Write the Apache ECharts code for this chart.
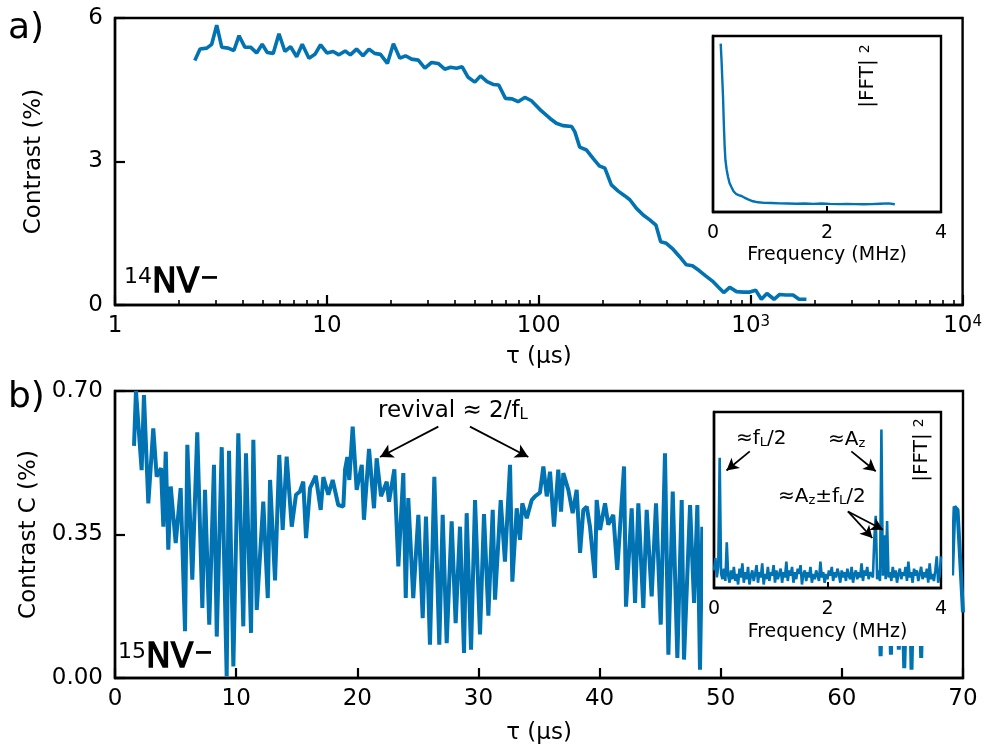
<!DOCTYPE html>
<html>
<head>
<meta charset="utf-8">
<script src="https://cdn.jsdelivr.net/npm/echarts@6/dist/echarts.min.js"></script>
<style>
  html, body { margin: 0; padding: 0; background: #fff; }
  #chart { width: 985px; height: 747px; }
</style>
</head>
<body>
<div id="chart"></div>
<script>
// ---- panel a) : 14NV- echo decay on a log time axis ----
const tauA = [2.38,2.52,2.71,2.86,3.02,3.19,3.42,3.64,3.85,4.10,
  4.36,4.66,4.95,5.23,5.58,5.94,6.34,6.74,7.20,7.65,
  8.23,8.78,9.34,10.0,10.7,11.4,12.2,12.9,13.8,14.8,
  15.8,16.8,17.9,19.3,20.6,22.1,23.5,25.1,27.0,29.0,
  31.2,33.5,36.0,38.3,40.9,43.5,46.4,49.9,53.1,57.0,
  60.9,64.7,69.6,74.8,79.8,85.9,92.3,101,113,121,
  130,143,148,156,168,180,193,205,220,237,
  255,269,289,311,334,357,376,400,427,462,
  497,531,571,613,660,701,746,796,857,921,
  990,1056,1123,1193,1289,1370,1463,1584,1691,1832];
const contrastA = [5.11,5.35,5.37,5.45,5.85,5.39,5.37,5.32,5.63,5.39,
  5.39,5.27,5.45,5.28,5.26,5.67,5.30,5.40,5.19,5.45,
  5.16,5.24,5.44,5.27,5.30,5.23,5.31,5.23,5.35,5.21,
  5.35,5.26,5.24,5.05,5.46,5.16,5.21,5.14,5.12,4.95,
  5.07,5.05,4.93,4.97,4.95,4.98,4.76,4.66,4.79,4.67,
  4.61,4.60,4.32,4.31,4.25,4.34,4.27,4.09,3.90,3.80,
  3.75,3.73,3.62,3.30,3.24,3.07,2.91,2.86,2.51,2.38,
  2.28,2.20,2.02,1.88,1.78,1.67,1.32,1.29,1.18,1.01,
  0.84,0.82,0.72,0.61,0.50,0.38,0.26,0.37,0.28,0.27,
  0.27,0.31,0.12,0.24,0.12,0.22,0.21,0.21,0.12,0.12];

// inset a) : power spectrum (arbitrary units)
const freqA = [0.135,0.15,0.165,0.176,0.19,0.205,0.218,0.24,0.264,0.29,0.323,0.36,0.411,0.45,0.499,0.55,0.615,0.70,0.791,0.90,1.026,1.17,1.318,1.46,1.61,1.76,1.905,2.05,2.20,2.35,2.49,2.64,2.78,2.93,3.08,3.19];
const fftA  = [0.957,0.86,0.74,0.653,0.50,0.37,0.294,0.24,0.199,0.165,0.142,0.118,0.101,0.096,0.091,0.082,0.072,0.061,0.055,0.052,0.051,0.049,0.048,0.047,0.048,0.046,0.048,0.046,0.045,0.046,0.045,0.044,0.045,0.047,0.049,0.044];

// ---- panel b) : 15NV- echo with revivals ----
const tauB = [1.57,1.73,2.20,2.39,2.75,3.16,3.44,3.80,3.99,4.19,
  4.40,4.60,5.01,5.42,5.78,5.97,6.38,6.79,7.21,7.43,
  7.78,8.17,8.40,8.81,9.22,9.41,9.77,10.18,10.59,10.81,
  11.23,11.42,11.70,12.24,12.61,12.80,13.21,13.56,13.84,14.17,
  14.59,14.94,15.27,15.54,15.77,16.10,16.57,16.98,17.20,17.61,
  17.97,18.43,18.85,18.99,19.18,19.34,19.62,19.95,20.37,20.55,
  20.97,21.38,21.60,21.96,22.43,22.62,23.06,23.39,23.80,24.00,
  24.21,24.62,25.04,25.40,25.67,26.00,26.36,26.77,27.05,27.38,
  27.79,28.12,28.48,28.81,29.03,29.39,29.72,30.13,30.46,30.82,
  31.18,31.37,31.84,32.19,32.61,32.80,33.16,33.43,33.62,33.99,
  34.40,34.67,35.08,35.36,35.64,35.91,36.24,36.59,36.82,37.01,
  37.42,37.78,38.11,38.39,38.66,38.94,39.21,39.62,39.76,40.04,
  40.45,40.72,41.13,41.46,42.02,42.18,42.65,42.93,43.20,43.61,
  43.89,44.30,44.66,45.05,45.40,45.68,46.04,46.42,46.78,46.97,
  47.47,47.80,48.07,48.29,48.48,48.70,
  63.00,63.20,63.40,63.85,64.05,64.25,64.50,64.70,64.90,65.15,
  65.40,65.55,65.75,65.95,66.30,66.55,66.75,67.00,
  69.10,69.30,69.55,70.00];
const contrastB = [0.566,0.70,0.507,0.69,0.426,0.609,0.491,0.512,0.369,0.552,
  0.313,0.467,0.329,0.463,0.114,0.569,0.240,0.599,0.171,0.459,
  0.130,0.520,0.101,0.563,0.004,0.554,0.028,0.597,0.126,0.548,
  0.110,0.581,0.166,0.430,0.195,0.483,0.238,0.544,0.361,0.540,
  0.369,0.447,0.455,0.479,0.341,0.463,0.493,0.410,0.490,0.447,
  0.483,0.422,0.418,0.508,0.539,0.483,0.613,0.459,0.520,0.386,
  0.559,0.414,0.536,0.443,0.479,0.430,0.509,0.272,0.500,0.195,
  0.439,0.195,0.398,0.146,0.394,0.081,0.491,0.081,0.398,0.085,
  0.382,0.134,0.369,0.061,0.402,0.069,0.434,0.106,0.400,0.152,
  0.410,0.191,0.434,0.284,0.520,0.235,0.414,0.337,0.426,0.390,
  0.434,0.443,0.452,0.516,0.443,0.503,0.369,0.508,0.406,0.500,
  0.459,0.402,0.459,0.305,0.410,0.418,0.369,0.244,0.434,0.361,
  0.426,0.374,0.398,0.264,0.516,0.174,0.414,0.183,0.426,0.171,
  0.410,0.199,0.426,0.130,0.548,0.057,0.455,0.049,0.434,0.045,
  0.422,0.183,0.422,0.020,0.369,null,
  0.330,0.053,0.300,0.280,0.057,0.310,0.300,0.069,0.320,0.024,
  0.290,0.330,0.020,0.300,0.310,0.049,0.340,null,
  0.250,0.418,0.410,0.160];

// inset b) : power spectrum, bins every 0.025 MHz from 0 to 4 MHz
const FFT_B_STEP = 0.025;
const fftB = [0.10,0.17,0.06,0.12,0.74,0.08,0.05,0.11,0.04,0.26,
  0.07,0.03,0.10,0.05,0.12,0.04,0.08,0.02,0.11,0.06,
  0.14,0.03,0.09,0.05,0.12,0.02,0.07,0.10,0.04,0.08,
  0.13,0.03,0.09,0.06,0.14,0.02,0.08,0.05,0.12,0.04,
  0.09,0.07,0.13,0.03,0.10,0.05,0.08,0.11,0.03,0.09,
  0.06,0.15,0.04,0.10,0.07,0.12,0.03,0.09,0.05,0.11,
  0.08,0.13,0.02,0.08,0.10,0.04,0.09,0.06,0.12,0.03,
  0.08,0.05,0.10,0.07,0.04,0.15,0.06,0.09,0.03,0.08,
  0.05,0.10,0.07,0.12,0.04,0.09,0.06,0.11,0.08,0.03,
  0.10,0.06,0.09,0.04,0.11,0.07,0.05,0.12,0.03,0.08,
  0.10,0.05,0.09,0.06,0.14,0.04,0.10,0.07,0.12,0.05,
  0.09,0.08,0.06,0.28,0.41,0.05,0.10,0.04,0.90,0.07,
  0.30,0.05,0.38,0.06,0.09,0.04,0.12,0.06,0.10,0.03,
  0.08,0.11,0.05,0.09,0.07,0.12,0.04,0.15,0.06,0.09,
  0.03,0.11,0.07,0.10,0.04,0.08,0.12,0.05,0.09,0.06,
  0.11,0.03,0.14,0.05,0.08,0.04,0.10,0.18,0.03,0.07,
  0.18];

// axis ticks
const logTickLabels = ['1', '10', '100', '10{sup|3}', '10{sup|4}'];
const logMinorTicks = [2,3,4,5,6,7,8,9,20,30,40,50,60,70,80,90,200,300,400,500,600,700,800,900,2000,3000,4000,5000,6000,7000,8000,9000];
const freqTicks = [0, 2, 4];

const FONT = 'DejaVu Sans';
const BLUE = '#0173b2';
const BLACK = '#000';

const seriesA = tauA.map((t, i) => [t, contrastA[i]]);
const seriesAInset = freqA.map((f, i) => [f, fftA[i]]);
const seriesB = tauB.map((t, i) => [t, contrastB[i]]);
const seriesBInset = fftB.map((v, i) => [i * FFT_B_STEP, v]);

const axisLineStyle = { show: true, lineStyle: { color: BLACK, width: 2.4 } };
const tickLabel = (size) => ({ color: BLACK, fontFamily: FONT, fontSize: size });

function mainY(gridIndex, max, interval, name, digits) {
  return {
    gridIndex, type: 'value', min: 0, max, interval,
    axisLine: axisLineStyle,
    axisTick: { show: true, inside: true, length: 10, lineStyle: { color: BLACK, width: 2.2 } },
    axisLabel: Object.assign(tickLabel(23), { margin: 12, formatter: v => v.toFixed(digits) }),
    splitLine: { show: false },
    name, nameLocation: 'middle', nameGap: 69,
    nameTextStyle: tickLabel(23)
  };
}

function insetX(gridIndex, nameGap) {
  return {
    gridIndex, type: 'value', min: 0, max: 4, z: 60,
    axisLine: axisLineStyle,
    axisTick: { show: true, inside: true, length: 6, customValues: freqTicks, lineStyle: { color: BLACK, width: 2 } },
    axisLabel: Object.assign(tickLabel(19), { margin: 12, customValues: freqTicks }),
    splitLine: { show: false },
    name: 'Frequency (MHz)', nameLocation: 'middle', nameGap,
    nameTextStyle: tickLabel(19)
  };
}

function insetY(gridIndex) {
  return {
    gridIndex, type: 'value', min: 0, max: 1, z: 60,
    axisLine: axisLineStyle, axisTick: { show: false }, axisLabel: { show: false },
    splitLine: { show: false }
  };
}

const arrowLine = { color: BLACK, width: 1.8, type: 'solid' };

const option = {
  animation: false,
  backgroundColor: '#fff',
  textStyle: { fontFamily: FONT },
  grid: [
    { left: 115, top: 18, width: 848, height: 287, show: true, borderColor: BLACK, borderWidth: 2.4, backgroundColor: 'transparent' },
    { left: 713, top: 36, width: 228, height: 176, show: true, borderColor: BLACK, borderWidth: 2.4, backgroundColor: 'transparent', z: 60 },
    { left: 115, top: 391, width: 848, height: 287, show: true, borderColor: BLACK, borderWidth: 2.4, backgroundColor: 'transparent' },
    { left: 714, top: 412, width: 227, height: 176, show: true, borderColor: BLACK, borderWidth: 2.4, backgroundColor: 'transparent', z: 60 },
    { left: 115, top: 18, width: 848, height: 287, show: false }
  ],
  xAxis: [
    {
      gridIndex: 0, type: 'log', logBase: 10, min: 1, max: 10000,
      axisLine: axisLineStyle,
      axisTick: { show: true, inside: true, length: 10, lineStyle: { color: BLACK, width: 2.2 } },
      axisLabel: Object.assign(tickLabel(23), {
        margin: 10, showMinLabel: true, showMaxLabel: true,
        formatter: v => logTickLabels[Math.round(Math.log10(v))],
        rich: { sup: { fontSize: 15, fontFamily: FONT, color: BLACK, verticalAlign: 'top', padding: [0, 0, 6, 0] } }
      }),
      splitLine: { show: false },
      name: 'τ (μs)', nameLocation: 'middle', nameGap: 41, nameTextStyle: tickLabel(23)
    },
    {
      gridIndex: 4, type: 'log', logBase: 10, min: 1, max: 10000, position: 'bottom',
      axisLine: { show: false },
      axisTick: { show: true, inside: true, length: 5, customValues: logMinorTicks, lineStyle: { color: BLACK, width: 1.6 } },
      axisLabel: { show: false }, splitLine: { show: false }
    },
    insetX(1, 34),
    {
      gridIndex: 2, type: 'value', min: 0, max: 70, interval: 10,
      axisLine: axisLineStyle,
      axisTick: { show: true, inside: true, length: 10, lineStyle: { color: BLACK, width: 2.2 } },
      axisLabel: Object.assign(tickLabel(23), { margin: 10, showMinLabel: true, showMaxLabel: true }),
      splitLine: { show: false },
      name: 'τ (μs)', nameLocation: 'middle', nameGap: 44, nameTextStyle: tickLabel(23)
    },
    insetX(3, 35)
  ],
  yAxis: [
    mainY(0, 6, 3, 'Contrast (%)', 0),
    insetY(1),
    mainY(2, 0.70, 0.35, 'Contrast C (%)', 2),
    insetY(3),
    { gridIndex: 4, type: 'value', min: 0, max: 1, show: false }
  ],
  series: [
    {
      type: 'line', xAxisIndex: 0, yAxisIndex: 0, data: seriesA,
      showSymbol: false, lineStyle: { color: BLUE, width: 3.6 }, itemStyle: { color: BLUE }
    },
    {
      type: 'line', xAxisIndex: 2, yAxisIndex: 1, data: seriesAInset, z: 60,
      showSymbol: false, lineStyle: { color: BLUE, width: 2.4 }, itemStyle: { color: BLUE }
    },
    {
      type: 'line', xAxisIndex: 3, yAxisIndex: 2, data: seriesB, connectNulls: false,
      showSymbol: false, lineStyle: { color: BLUE, width: 4 }, itemStyle: { color: BLUE },
      markLine: {
        silent: true, symbol: ['none', 'arrow'], symbolSize: [11, 13],
        label: { show: false }, lineStyle: arrowLine, itemStyle: { color: BLACK },
        data: [
          [{ coord: [26.69, 0.613] }, { coord: [21.88, 0.539] }],
          [{ coord: [29.30, 0.613] }, { coord: [34.12, 0.539] }]
        ]
      }
    },
    {
      type: 'line', xAxisIndex: 4, yAxisIndex: 3, data: seriesBInset, z: 60,
      showSymbol: false, lineStyle: { color: BLUE, width: 2.6 }, itemStyle: { color: BLUE },
      markLine: {
        silent: true, z: 65, symbol: ['none', 'arrow'], symbolSize: [10, 12],
        label: { show: false }, lineStyle: arrowLine, itemStyle: { color: BLACK },
        data: [
          [{ coord: [0.63, 0.776] }, { coord: [0.22, 0.668] }],
          [{ coord: [2.42, 0.776] }, { coord: [2.85, 0.663] }],
          [{ coord: [2.36, 0.435] }, { coord: [2.79, 0.284] }],
          [{ coord: [2.36, 0.435] }, { coord: [2.98, 0.331] }]
        ]
      }
    }
  ]
};

const sub = { fontSize: 13, fontFamily: FONT, fill: BLACK, verticalAlign: 'bottom' };
const subBig = { fontSize: 15, fontFamily: FONT, fill: BLACK, verticalAlign: 'bottom' };
const supFFT = { fontSize: 14, fontFamily: FONT, fill: BLACK, verticalAlign: 'top', padding: [0, 0, 0, 6] };
const nvRich = {
  s: { fontSize: 22, fontFamily: FONT, fill: BLACK, verticalAlign: 'top' },
  n: { fontSize: 33, fontFamily: FONT, fill: BLACK, stroke: BLACK, lineWidth: 1.3 },
  m: { fontSize: 24, fontFamily: FONT, fontWeight: 'bold', fill: BLACK, verticalAlign: 'top' }
};

function txt(x, y, text, size, extra) {
  return {
    type: 'text', x, y, z: 100,
    style: Object.assign({ text, fontSize: size, fontFamily: FONT, fill: BLACK, align: 'left', verticalAlign: 'middle' }, extra || {})
  };
}

function fftTitle(x, y) {
  return {
    type: 'text', x, y, rotation: Math.PI / 2, z: 100,
    style: { text: '|FFT|{sup|2}', fontSize: 20, fontFamily: FONT, fill: BLACK, align: 'center', verticalAlign: 'middle', rich: { sup: supFFT } }
  };
}

option.graphic = {
  elements: [
    // white patch behind the lower inset and its labels
    { type: 'rect', z: 50, shape: { x: 703, y: 400, width: 249, height: 246 }, style: { fill: '#fff' } },
    txt(8, 29, 'a)', 36),
    txt(8, 398, 'b)', 36),
    txt(124, 283, '{s|14}{n|NV}{m|−}', 22, { rich: nvRich }),
    txt(118, 658, '{s|15}{n|NV}{m|−}', 22, { rich: nvRich }),
    txt(378, 411, 'revival ≈ 2/f{sub|L}', 23, { rich: { sub: subBig } }),
    txt(736, 439, '≈f{sub|L}/2', 20, { rich: { sub } }),
    txt(828, 440, '≈A{sub|z}', 20, { rich: { sub } }),
    txt(778, 497, '≈A{sub|z}±f{sub|L}/2', 20, { rich: { sub } }),
    fftTitle(868, 76),
    fftTitle(922, 450)
  ]
};

const chart = echarts.init(document.getElementById('chart'), null, { renderer: 'canvas' });
chart.setOption(option);
</script>
</body>
</html>
